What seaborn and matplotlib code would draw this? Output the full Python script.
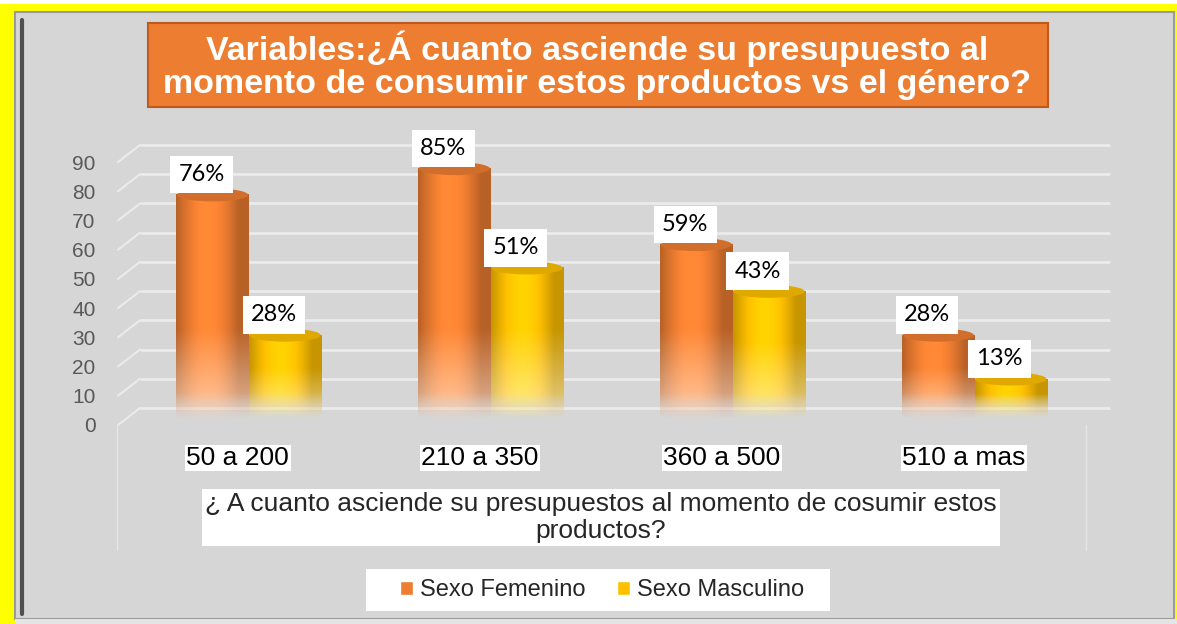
import numpy as np
import pandas as pd
import matplotlib.pyplot as plt
import matplotlib.transforms as mtransforms
from matplotlib.patches import Rectangle, Ellipse, Patch
from matplotlib.lines import Line2D
import seaborn as sns

# datos
rangos = ['50 a 200', '210 a 350', '360 a 500', '510 a mas']
femenino = [76, 85, 59, 28]
masculino = [28, 51, 43, 13]
series = ['Sexo Femenino', 'Sexo Masculino']
y_ticks = list(range(0, 100, 10))

titulo = ('Variables:¿Á cuanto asciende su presupuesto al\n'
          'momento de consumir estos productos vs el género?')
eje_x = ('¿ A cuanto asciende su presupuestos al momento de cosumir estos\n'
         'productos?')

naranja = '#ED7D31'
amarillo = '#FFC000'
fondo = '#D6D6D6'

df = pd.DataFrame({
    'rango': rangos * 2,
    'valor': femenino + masculino,
    'sexo': [series[0]] * len(rangos) + [series[1]] * len(rangos),
})

sns.set_style('white')
plt.rcParams['font.family'] = ['Liberation Sans', 'DejaVu Sans']

W, H = 1177, 624
fig = plt.figure(figsize=(W / 100, H / 100), dpi=100)
fig.patch.set_facecolor('#FFFF00')


def px_rect(x0, y0, x1, y1, **kw):
    r = Rectangle((x0 / W, 1 - y1 / H), (x1 - x0) / W, (y1 - y0) / H,
                  transform=fig.transFigure, **kw)
    fig.add_artist(r)
    return r


# marco y panel gris
px_rect(0, 0, W, 4, facecolor='white', edgecolor='none', zorder=-5)
px_rect(15, 12, 1174, 619, facecolor=fondo, edgecolor='#9a9a9a', lw=1.5, zorder=-4)
px_rect(15, 619, W, H, facecolor='#e4e4e4', edgecolor='none', zorder=-4)
fig.add_artist(Line2D([22 / W, 22 / W], [1 - 614 / H, 1 - 20 / H], transform=fig.transFigure,
                      color='#505050', lw=3, zorder=-3))

# titulo
px_rect(148, 23, 1048, 107, facecolor=naranja, edgecolor='#C05A1C', lw=1.5, zorder=2)
fig.text(597 / W, 1 - 65 / H, titulo, ha='center', va='center', fontsize=24.5,
         fontweight='bold', color='white', linespacing=1.1, zorder=3)

# area de trazado
ax_l, ax_r, ax_b, ax_t = 140, 1110, 417, 154
ax = fig.add_axes([ax_l / W, 1 - ax_b / H, (ax_r - ax_l) / W, (ax_b - ax_t) / H])
ax.patch.set_alpha(0)
ppu = (ax_b - ax_t) / 90.0  # pixeles por unidad

sns.barplot(data=df, x='rango', y='valor', hue='sexo', palette=[naranja, amarillo],
            width=0.6, saturation=1, legend=False, ax=ax)

# cilindros con degradado
nx, ny = 60, 200
u = np.linspace(0, 1, nx)
shade = 0.78 + 0.32 * np.sin(np.pi * np.clip(u * 1.15, 0, 1))
for cont in ax.containers:
    for bar in cont:
        x0, w, h = bar.get_x(), bar.get_width(), bar.get_height()
        rgb = np.array(bar.get_facecolor()[:3])
        bar.set_visible(False)
        yv = np.linspace(0, h, ny)
        img = np.ones((ny, nx, 4))
        base = np.clip(rgb[None, :] * shade[:, None], 0, 1)
        whiten = 0.55 * np.clip(1 - yv / min(30, 0.6 * h), 0, 1)
        alpha = np.clip(0.1 + yv / 9, 0, 1)
        img[:, :, :3] = base[None, :, :] * (1 - whiten[:, None, None]) + whiten[:, None, None]
        img[:, :, 3] = alpha[:, None]
        ax.imshow(img, extent=(x0, x0 + w, 0, h), origin='lower', aspect='auto',
                  zorder=3, interpolation='bilinear')
        ax.add_patch(Ellipse((x0 + w / 2, h), w * 0.98, 13 / ppu,
                             facecolor=np.clip(rgb * 0.88, 0, 1), edgecolor='none', zorder=4))
        ax.annotate(f'{h:.0f}%', (x0 + w / 2, h), xytext=(-8, 7), textcoords='offset points',
                    ha='center', va='bottom', fontsize=17, family='Lato', color='black',
                    bbox=dict(boxstyle='square,pad=0.35', facecolor='white', edgecolor='none'),
                    zorder=6, annotation_clip=False)

ax.set_xlim(-0.45, 3.56)
ax.set_ylim(0, 90)
sns.despine(ax=ax, left=True, bottom=True)

# lineas de cuadricula con efecto 3D
ytr = ax.get_yaxis_transform()
for t in y_ticks:
    ax.plot([0, 1], [t + 9 / ppu, t + 9 / ppu], transform=ytr, color='#EBEBEB', lw=2,
            clip_on=False, zorder=1, solid_capstyle='butt')
    ax.plot([-22 / (ax_r - ax_l), 0], [t - 8 / ppu, t + 9 / ppu], transform=ytr,
            color='#EBEBEB', lw=1.5, clip_on=False, zorder=1)
for xa in [-23 / (ax_r - ax_l), (1086 - ax_l) / (ax_r - ax_l)]:
    ax.plot([xa, xa], [-8 / (ax_b - ax_t), -133 / (ax_b - ax_t)], transform=ax.transAxes,
            color='#E6E6E6', lw=1, clip_on=False)

# ejes
ax.set_yticks(y_ticks)
ax.tick_params(axis='y', length=0, pad=32, labelsize=15, labelcolor='#595959')
ax.tick_params(axis='x', length=0, pad=21, labelsize=19, labelcolor='black')
ax.set_xticks(range(len(rangos)))
ax.set_xticklabels(rangos)
down = mtransforms.ScaledTranslation(0, -8 / 100, fig.dpi_scale_trans)
left = mtransforms.ScaledTranslation(-11 / 100, 0, fig.dpi_scale_trans)
for lab in ax.get_yticklabels():
    lab.set_transform(lab.get_transform() + down)
for lab in ax.get_xticklabels():
    lab.set_transform(lab.get_transform() + left)
    lab.set_bbox(dict(facecolor='white', edgecolor='none', pad=1))
ax.set_ylabel('')
ax.set_xlabel(eje_x, fontsize=19, linespacing=1.15,
              bbox=dict(facecolor='white', edgecolor='none', pad=2.5))
ax.xaxis.set_label_coords((601 - ax_l) / (ax_r - ax_l), -75 / (ax_b - ax_t))

# leyenda
px_rect(366, 569, 830, 611, facecolor='white', edgecolor='none', zorder=1)
handles = [Patch(facecolor=naranja), Patch(facecolor=amarillo)]
fig.legend(handles, series, loc='center', bbox_to_anchor=(602 / W, 1 - 590 / H), ncol=2,
           fontsize=17, frameon=False, handlelength=0.55, handleheight=0.55,
           handletextpad=0.3, columnspacing=1.35, borderpad=0, borderaxespad=0)

fig.savefig('out.png', dpi=100, facecolor=fig.get_facecolor())
